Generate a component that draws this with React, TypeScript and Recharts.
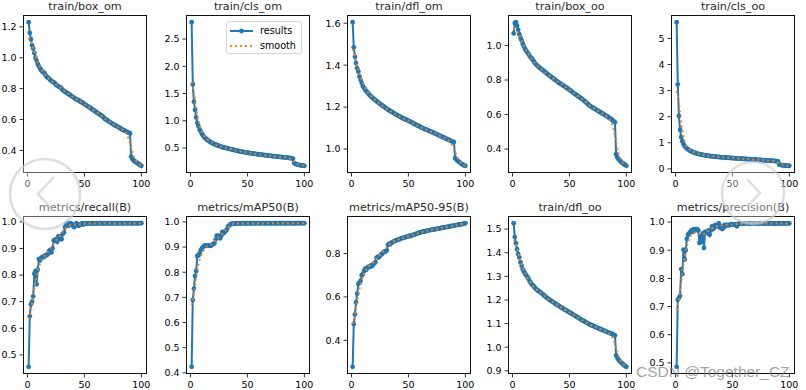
import React, {FC} from 'react';
import {LineChart, Line, XAxis, YAxis, Legend} from 'recharts';

const epochs = [
     1, 2, 3, 4, 5, 6, 7, 8, 9, 10, 11, 12, 13, 14, 15, 16, 17, 18, 19, 20,
     21, 22, 23, 24, 25, 26, 27, 28, 29, 30, 31, 32, 33, 34, 35, 36, 37, 38, 39, 40,
     41, 42, 43, 44, 45, 46, 47, 48, 49, 50, 51, 52, 53, 54, 55, 56, 57, 58, 59, 60,
     61, 62, 63, 64, 65, 66, 67, 68, 69, 70, 71, 72, 73, 74, 75, 76, 77, 78, 79, 80,
     81, 82, 83, 84, 85, 86, 87, 88, 89, 90, 91, 92, 93, 94, 95, 96, 97, 98, 99, 100,
];

// train/box_om
const boxOm = [
     1.23, 1.16, 1.12, 1.08, 1.06, 1.03, 1.0, 0.98, 0.96, 0.945,
     0.93, 0.92, 0.91, 0.905, 0.9, 0.885, 0.875, 0.87, 0.865, 0.855,
     0.85, 0.845, 0.84, 0.835, 0.825, 0.82, 0.815, 0.81, 0.808, 0.8,
     0.79, 0.785, 0.78, 0.775, 0.77, 0.765, 0.76, 0.755, 0.75, 0.745,
     0.74, 0.735, 0.73, 0.728, 0.723, 0.718, 0.714, 0.71, 0.705, 0.7,
     0.695, 0.69, 0.685, 0.68, 0.676, 0.67, 0.665, 0.66, 0.655, 0.65,
     0.645, 0.64, 0.635, 0.63, 0.625, 0.62, 0.612, 0.603, 0.6, 0.595,
     0.59, 0.585, 0.58, 0.575, 0.57, 0.566, 0.561, 0.558, 0.554, 0.55,
     0.545, 0.54, 0.536, 0.532, 0.529, 0.525, 0.52, 0.517, 0.515, 0.51,
     0.36, 0.345, 0.336, 0.33, 0.325, 0.32, 0.315, 0.31, 0.305, 0.3,
];
const boxOmSmooth = [
     1.13, 1.12, 1.1, 1.08, 1.06, 1.035, 1.01, 0.99, 0.97, 0.955,
     0.94, 0.928, 0.916, 0.905, 0.895, 0.886, 0.878, 0.87, 0.863, 0.857,
     0.851, 0.845, 0.839, 0.833, 0.827, 0.821, 0.816, 0.81, 0.805, 0.799,
     0.793, 0.787, 0.781, 0.776, 0.771, 0.766, 0.761, 0.756, 0.751, 0.746,
     0.741, 0.736, 0.732, 0.727, 0.723, 0.718, 0.714, 0.709, 0.704, 0.7,
     0.695, 0.69, 0.685, 0.68, 0.675, 0.67, 0.665, 0.66, 0.655, 0.65,
     0.645, 0.64, 0.635, 0.63, 0.624, 0.618, 0.612, 0.606, 0.6, 0.595,
     0.59, 0.585, 0.58, 0.575, 0.57, 0.566, 0.562, 0.558, 0.554, 0.549,
     0.545, 0.541, 0.537, 0.531, 0.526, 0.518, 0.506, 0.49, 0.469, 0.445,
     0.423, 0.396, 0.368, 0.349, 0.336, 0.326, 0.318, 0.311, 0.306, 0.302,
];

// train/cls_om
const clsOm = [
     2.81, 1.67, 1.35, 1.2, 1.06, 0.96, 0.9, 0.84, 0.8, 0.76,
     0.73, 0.7, 0.68, 0.66, 0.645, 0.63, 0.615, 0.6, 0.59, 0.58,
     0.57, 0.56, 0.555, 0.545, 0.54, 0.53, 0.525, 0.515, 0.51, 0.505,
     0.5, 0.495, 0.49, 0.485, 0.48, 0.475, 0.47, 0.465, 0.46, 0.455,
     0.448, 0.444, 0.44, 0.436, 0.432, 0.428, 0.424, 0.42, 0.416, 0.412,
     0.409, 0.406, 0.403, 0.4, 0.397, 0.394, 0.391, 0.388, 0.385, 0.382,
     0.38, 0.377, 0.374, 0.372, 0.369, 0.366, 0.364, 0.361, 0.358, 0.356,
     0.354, 0.351, 0.349, 0.347, 0.344, 0.342, 0.34, 0.337, 0.335, 0.333,
     0.33, 0.328, 0.326, 0.324, 0.321, 0.319, 0.316, 0.313, 0.31, 0.305,
     0.225, 0.21, 0.2, 0.195, 0.19, 0.185, 0.18, 0.178, 0.175, 0.172,
];
const clsOmSmooth = [
     1.71, 1.65, 1.53, 1.39, 1.24, 1.11, 1.0, 0.91, 0.84, 0.79,
     0.75, 0.72, 0.695, 0.675, 0.655, 0.638, 0.622, 0.608, 0.596, 0.585,
     0.575, 0.566, 0.557, 0.549, 0.541, 0.534, 0.527, 0.52, 0.514, 0.508,
     0.502, 0.497, 0.491, 0.486, 0.481, 0.476, 0.471, 0.465, 0.46, 0.455,
     0.45, 0.445, 0.441, 0.437, 0.433, 0.429, 0.425, 0.421, 0.417, 0.413,
     0.41, 0.406, 0.403, 0.4, 0.397, 0.394, 0.391, 0.388, 0.385, 0.383,
     0.38, 0.377, 0.375, 0.372, 0.369, 0.367, 0.364, 0.362, 0.359, 0.357,
     0.354, 0.352, 0.349, 0.347, 0.345, 0.342, 0.34, 0.338, 0.335, 0.333,
     0.331, 0.328, 0.326, 0.323, 0.318, 0.314, 0.306, 0.297, 0.285, 0.27,
     0.257, 0.235, 0.216, 0.205, 0.195, 0.188, 0.182, 0.178, 0.175, 0.173,
];

// train/dfl_om
const dflOm = [
     1.605, 1.485, 1.44, 1.41, 1.385, 1.37, 1.345, 1.33, 1.315, 1.3,
     1.292, 1.284, 1.276, 1.27, 1.264, 1.257, 1.252, 1.246, 1.242, 1.237,
     1.233, 1.228, 1.224, 1.22, 1.215, 1.212, 1.208, 1.204, 1.2, 1.196,
     1.192, 1.188, 1.185, 1.182, 1.178, 1.175, 1.172, 1.168, 1.165, 1.162,
     1.159, 1.156, 1.153, 1.15, 1.147, 1.145, 1.142, 1.14, 1.138, 1.135,
     1.132, 1.13, 1.127, 1.124, 1.121, 1.118, 1.115, 1.112, 1.11, 1.107,
     1.104, 1.101, 1.099, 1.096, 1.094, 1.092, 1.09, 1.087, 1.085, 1.083,
     1.08, 1.078, 1.075, 1.073, 1.07, 1.068, 1.065, 1.062, 1.06, 1.057,
     1.055, 1.052, 1.05, 1.047, 1.045, 1.042, 1.04, 1.037, 1.035, 1.033,
     0.957, 0.95, 0.945, 0.94, 0.936, 0.932, 0.928, 0.925, 0.922, 0.92,
];
const dflOmSmooth = [
     1.476, 1.462, 1.444, 1.422, 1.4, 1.38, 1.362, 1.346, 1.331, 1.318,
     1.306, 1.295, 1.285, 1.276, 1.268, 1.26, 1.254, 1.248, 1.243, 1.238,
     1.233, 1.228, 1.224, 1.22, 1.216, 1.212, 1.208, 1.204, 1.2, 1.196,
     1.192, 1.188, 1.185, 1.182, 1.178, 1.175, 1.172, 1.168, 1.165, 1.162,
     1.159, 1.156, 1.153, 1.15, 1.147, 1.145, 1.142, 1.14, 1.137, 1.135,
     1.132, 1.13, 1.127, 1.124, 1.121, 1.118, 1.115, 1.112, 1.11, 1.107,
     1.104, 1.101, 1.099, 1.096, 1.094, 1.092, 1.09, 1.087, 1.085, 1.083,
     1.08, 1.078, 1.075, 1.073, 1.07, 1.068, 1.065, 1.062, 1.06, 1.057,
     1.055, 1.052, 1.049, 1.046, 1.042, 1.037, 1.031, 1.022, 1.012, 1.0,
     0.99, 0.973, 0.96, 0.949, 0.941, 0.935, 0.929, 0.925, 0.922, 0.921,
];

// train/box_oo
const boxOo = [
     1.07, 1.13, 1.135, 1.115, 1.09, 1.065, 1.045, 1.03, 1.01, 0.995,
     0.98, 0.97, 0.96, 0.95, 0.94, 0.93, 0.925, 0.915, 0.905, 0.895,
     0.888, 0.882, 0.876, 0.87, 0.866, 0.86, 0.855, 0.85, 0.845, 0.838,
     0.833, 0.828, 0.823, 0.818, 0.813, 0.808, 0.803, 0.798, 0.793, 0.788,
     0.783, 0.779, 0.775, 0.77, 0.766, 0.762, 0.757, 0.753, 0.748, 0.743,
     0.738, 0.733, 0.728, 0.723, 0.718, 0.714, 0.709, 0.704, 0.699, 0.695,
     0.69, 0.685, 0.68, 0.674, 0.668, 0.662, 0.656, 0.65, 0.646, 0.642,
     0.638, 0.634, 0.63, 0.626, 0.622, 0.618, 0.614, 0.61, 0.606, 0.602,
     0.598, 0.594, 0.59, 0.585, 0.58, 0.576, 0.572, 0.566, 0.56, 0.555,
     0.37, 0.352, 0.342, 0.335, 0.328, 0.322, 0.317, 0.312, 0.308, 0.303,
];
const boxOoSmooth = [
     1.103, 1.095, 1.09, 1.083, 1.071, 1.057, 1.042, 1.027, 1.012, 0.998,
     0.985, 0.972, 0.961, 0.95, 0.94, 0.931, 0.922, 0.913, 0.905, 0.897,
     0.889, 0.882, 0.876, 0.87, 0.865, 0.86, 0.855, 0.849, 0.844, 0.839,
     0.833, 0.828, 0.823, 0.818, 0.813, 0.808, 0.803, 0.798, 0.793, 0.788,
     0.783, 0.779, 0.775, 0.77, 0.766, 0.762, 0.757, 0.753, 0.748, 0.743,
     0.738, 0.733, 0.728, 0.723, 0.718, 0.714, 0.709, 0.704, 0.699, 0.695,
     0.69, 0.685, 0.68, 0.674, 0.668, 0.662, 0.657, 0.651, 0.646, 0.642,
     0.638, 0.634, 0.63, 0.626, 0.622, 0.618, 0.614, 0.61, 0.606, 0.602,
     0.598, 0.594, 0.589, 0.582, 0.574, 0.564, 0.55, 0.53, 0.504, 0.477,
     0.448, 0.408, 0.378, 0.357, 0.34, 0.328, 0.32, 0.313, 0.309, 0.305,
];

// train/cls_oo
const clsOo = [
     5.62, 3.24, 2.03, 1.5, 1.22, 1.06, 0.95, 0.88, 0.82, 0.78,
     0.75, 0.72, 0.69, 0.67, 0.65, 0.63, 0.615, 0.6, 0.585, 0.575,
     0.565, 0.555, 0.545, 0.535, 0.528, 0.52, 0.513, 0.506, 0.5, 0.494,
     0.488, 0.483, 0.478, 0.473, 0.468, 0.463, 0.459, 0.455, 0.451, 0.447,
     0.443, 0.44, 0.436, 0.433, 0.43, 0.427, 0.424, 0.421, 0.418, 0.415,
     0.412, 0.409, 0.406, 0.403, 0.4, 0.397, 0.394, 0.391, 0.388, 0.385,
     0.382, 0.379, 0.376, 0.373, 0.37, 0.367, 0.364, 0.361, 0.358, 0.355,
     0.352, 0.349, 0.346, 0.343, 0.34, 0.337, 0.334, 0.331, 0.328, 0.325,
     0.322, 0.319, 0.316, 0.313, 0.31, 0.307, 0.304, 0.3, 0.297, 0.29,
     0.17, 0.155, 0.145, 0.14, 0.135, 0.13, 0.127, 0.124, 0.121, 0.118,
];
const clsOoSmooth = [
     2.99, 2.83, 2.53, 2.17, 1.81, 1.49, 1.24, 1.06, 0.93, 0.855,
     0.8, 0.76, 0.725, 0.697, 0.672, 0.65, 0.632, 0.615, 0.6, 0.587,
     0.575, 0.563, 0.552, 0.542, 0.533, 0.525, 0.517, 0.51, 0.503, 0.496,
     0.49, 0.484, 0.479, 0.474, 0.469, 0.464, 0.46, 0.455, 0.451, 0.447,
     0.443, 0.44, 0.436, 0.433, 0.43, 0.427, 0.424, 0.421, 0.418, 0.415,
     0.412, 0.409, 0.406, 0.403, 0.4, 0.397, 0.394, 0.391, 0.388, 0.385,
     0.382, 0.379, 0.376, 0.373, 0.37, 0.367, 0.364, 0.361, 0.358, 0.355,
     0.352, 0.349, 0.346, 0.343, 0.34, 0.337, 0.334, 0.331, 0.328, 0.325,
     0.322, 0.319, 0.316, 0.311, 0.306, 0.299, 0.289, 0.276, 0.26, 0.238,
     0.222, 0.192, 0.169, 0.155, 0.143, 0.134, 0.128, 0.124, 0.121, 0.119,
];

// metrics/recall(B)
const recall = [
     0.455, 0.645, 0.69, 0.7, 0.72, 0.805, 0.815, 0.765, 0.82, 0.86,
     0.855, 0.865, 0.865, 0.87, 0.87, 0.875, 0.875, 0.88, 0.89, 0.895,
     0.885, 0.9, 0.93, 0.93, 0.935, 0.925, 0.945, 0.935, 0.945, 0.935,
     0.955, 0.96, 0.98, 0.99, 0.995, 0.985, 0.99, 0.995, 0.99, 0.985,
     0.98, 0.99, 0.995, 0.99, 0.985, 0.99, 0.99, 0.995, 0.99, 0.993,
     0.994, 0.993, 0.995, 0.994, 0.993, 0.995, 0.994, 0.995, 0.993, 0.994,
     0.995, 0.994, 0.995, 0.995, 0.994, 0.995, 0.993, 0.995, 0.994, 0.995,
     0.995, 0.994, 0.995, 0.995, 0.994, 0.995, 0.995, 0.994, 0.995, 0.995,
     0.994, 0.995, 0.995, 0.994, 0.995, 0.995, 0.995, 0.994, 0.995, 0.995,
     0.995, 0.994, 0.995, 0.995, 0.995, 0.994, 0.995, 0.995, 0.995, 0.995,
];
const recallSmooth = [
     0.634, 0.645, 0.666, 0.694, 0.724, 0.75, 0.775, 0.795, 0.815, 0.83,
     0.843, 0.852, 0.86, 0.866, 0.872, 0.877, 0.882, 0.887, 0.892, 0.898,
     0.905, 0.912, 0.918, 0.924, 0.93, 0.935, 0.94, 0.945, 0.95, 0.956,
     0.962, 0.968, 0.973, 0.978, 0.982, 0.985, 0.987, 0.988, 0.989, 0.99,
     0.99, 0.99, 0.99, 0.99, 0.99, 0.991, 0.991, 0.992, 0.992, 0.993,
     0.993, 0.993, 0.994, 0.994, 0.994, 0.994, 0.994, 0.994, 0.994, 0.994,
     0.994, 0.994, 0.994, 0.994, 0.994, 0.994, 0.994, 0.994, 0.994, 0.994,
     0.994, 0.994, 0.994, 0.994, 0.994, 0.994, 0.994, 0.994, 0.994, 0.994,
     0.994, 0.994, 0.994, 0.994, 0.994, 0.994, 0.994, 0.994, 0.994, 0.994,
     0.994, 0.994, 0.995, 0.995, 0.995, 0.995, 0.995, 0.995, 0.995, 0.995,
];

// metrics/mAP50(B)
const mAP50 = [
     0.424, 0.69, 0.735, 0.785, 0.805, 0.865, 0.867, 0.875, 0.888, 0.895,
     0.9, 0.905, 0.907, 0.905, 0.906, 0.905, 0.908, 0.905, 0.91, 0.912,
     0.915, 0.93, 0.945, 0.94, 0.945, 0.935, 0.945, 0.96, 0.955, 0.96,
     0.965, 0.97, 0.982, 0.985, 0.99, 0.993, 0.992, 0.993, 0.993, 0.994,
     0.994, 0.995, 0.994, 0.994, 0.995, 0.994, 0.995, 0.995, 0.994, 0.995,
     0.994, 0.995, 0.995, 0.994, 0.995, 0.995, 0.994, 0.995, 0.995, 0.995,
     0.994, 0.995, 0.995, 0.995, 0.994, 0.995, 0.995, 0.995, 0.995, 0.994,
     0.995, 0.995, 0.995, 0.995, 0.995, 0.994, 0.995, 0.995, 0.995, 0.995,
     0.995, 0.995, 0.994, 0.995, 0.995, 0.995, 0.995, 0.995, 0.995, 0.995,
     0.994, 0.995, 0.995, 0.995, 0.995, 0.995, 0.995, 0.995, 0.995, 0.995,
];
const mAP50Smooth = [
     0.67, 0.686, 0.712, 0.745, 0.781, 0.808, 0.83, 0.848, 0.862, 0.873,
     0.882, 0.889, 0.895, 0.9, 0.903, 0.906, 0.909, 0.912, 0.915, 0.919,
     0.923, 0.928, 0.932, 0.936, 0.94, 0.944, 0.948, 0.953, 0.958, 0.963,
     0.968, 0.973, 0.978, 0.982, 0.986, 0.989, 0.991, 0.993, 0.993, 0.994,
     0.994, 0.994, 0.994, 0.994, 0.994, 0.994, 0.994, 0.994, 0.994, 0.994,
     0.994, 0.994, 0.994, 0.994, 0.994, 0.994, 0.994, 0.994, 0.994, 0.994,
     0.994, 0.994, 0.994, 0.994, 0.994, 0.994, 0.994, 0.995, 0.995, 0.995,
     0.995, 0.995, 0.995, 0.995, 0.995, 0.995, 0.995, 0.995, 0.995, 0.995,
     0.995, 0.995, 0.995, 0.995, 0.995, 0.995, 0.995, 0.995, 0.995, 0.995,
     0.995, 0.995, 0.995, 0.995, 0.995, 0.995, 0.995, 0.995, 0.995, 0.995,
];

// metrics/mAP50-95(B)
const mAP5095 = [
     0.278, 0.475, 0.52, 0.575, 0.615, 0.66, 0.665, 0.675, 0.7, 0.705,
     0.72, 0.73, 0.725, 0.735, 0.74, 0.738, 0.745, 0.742, 0.75, 0.755,
     0.76, 0.78, 0.785, 0.782, 0.79, 0.795, 0.8, 0.805, 0.81, 0.81,
     0.815, 0.84, 0.845, 0.843, 0.85, 0.852, 0.855, 0.858, 0.86, 0.862,
     0.865, 0.866, 0.868, 0.87, 0.872, 0.873, 0.875, 0.877, 0.878, 0.88,
     0.882, 0.88, 0.884, 0.886, 0.887, 0.889, 0.891, 0.893, 0.895, 0.897,
     0.898, 0.9, 0.902, 0.901, 0.903, 0.905, 0.906, 0.907, 0.908, 0.909,
     0.91, 0.911, 0.912, 0.913, 0.914, 0.915, 0.916, 0.917, 0.918, 0.919,
     0.92, 0.921, 0.922, 0.923, 0.924, 0.925, 0.926, 0.927, 0.928, 0.929,
     0.93, 0.931, 0.932, 0.933, 0.934, 0.935, 0.936, 0.937, 0.938, 0.94,
];
const mAP5095Smooth = [
     0.477, 0.49, 0.516, 0.547, 0.58, 0.61, 0.636, 0.658, 0.677, 0.693,
     0.707, 0.718, 0.727, 0.734, 0.74, 0.745, 0.75, 0.755, 0.76, 0.765,
     0.77, 0.776, 0.782, 0.788, 0.794, 0.8, 0.806, 0.812, 0.818, 0.824,
     0.83, 0.835, 0.84, 0.845, 0.849, 0.853, 0.856, 0.859, 0.861, 0.863,
     0.865, 0.867, 0.869, 0.87, 0.872, 0.873, 0.875, 0.877, 0.878, 0.88,
     0.881, 0.883, 0.884, 0.886, 0.887, 0.889, 0.891, 0.893, 0.895, 0.896,
     0.898, 0.899, 0.901, 0.902, 0.903, 0.905, 0.906, 0.907, 0.908, 0.909,
     0.91, 0.911, 0.912, 0.913, 0.914, 0.915, 0.916, 0.917, 0.918, 0.919,
     0.92, 0.921, 0.922, 0.923, 0.924, 0.925, 0.926, 0.927, 0.928, 0.929,
     0.93, 0.931, 0.932, 0.933, 0.934, 0.935, 0.936, 0.937, 0.938, 0.938,
];

// train/dfl_oo
const dflOo = [
     1.525, 1.466, 1.44, 1.415, 1.395, 1.38, 1.36, 1.345, 1.33, 1.32,
     1.312, 1.305, 1.298, 1.29, 1.28, 1.272, 1.265, 1.262, 1.256, 1.25,
     1.245, 1.24, 1.238, 1.234, 1.23, 1.226, 1.222, 1.218, 1.214, 1.21,
     1.206, 1.203, 1.199, 1.196, 1.193, 1.19, 1.186, 1.183, 1.18, 1.177,
     1.174, 1.171, 1.168, 1.165, 1.162, 1.159, 1.156, 1.153, 1.151, 1.148,
     1.145, 1.142, 1.139, 1.136, 1.133, 1.13, 1.127, 1.124, 1.121, 1.118,
     1.115, 1.112, 1.11, 1.107, 1.104, 1.101, 1.099, 1.096, 1.094, 1.092,
     1.09, 1.088, 1.085, 1.083, 1.081, 1.079, 1.077, 1.075, 1.073, 1.071,
     1.069, 1.067, 1.065, 1.063, 1.061, 1.059, 1.057, 1.055, 1.052, 1.05,
     0.965, 0.955, 0.948, 0.942, 0.937, 0.932, 0.928, 0.924, 0.92, 0.917,
];
const dflOoSmooth = [
     1.455, 1.448, 1.435, 1.418, 1.4, 1.383, 1.367, 1.352, 1.338, 1.326,
     1.315, 1.305, 1.296, 1.288, 1.28, 1.273, 1.266, 1.26, 1.255, 1.25,
     1.245, 1.241, 1.237, 1.233, 1.229, 1.225, 1.222, 1.218, 1.214, 1.21,
     1.206, 1.203, 1.199, 1.196, 1.193, 1.19, 1.186, 1.183, 1.18, 1.177,
     1.174, 1.171, 1.168, 1.165, 1.162, 1.159, 1.156, 1.153, 1.151, 1.148,
     1.145, 1.142, 1.139, 1.136, 1.133, 1.13, 1.127, 1.124, 1.121, 1.118,
     1.115, 1.112, 1.11, 1.107, 1.104, 1.101, 1.099, 1.096, 1.094, 1.092,
     1.09, 1.088, 1.085, 1.083, 1.081, 1.079, 1.077, 1.075, 1.073, 1.071,
     1.069, 1.067, 1.065, 1.062, 1.058, 1.053, 1.047, 1.038, 1.026, 1.014,
     1.001, 0.981, 0.965, 0.952, 0.943, 0.935, 0.929, 0.925, 0.921, 0.918,
];

// metrics/precision(B)
const precision = [
     0.486, 0.724, 0.73, 0.738, 0.833, 0.815, 0.902, 0.867, 0.9, 0.94,
     0.955, 0.96, 0.965, 0.97, 0.965, 0.975, 0.97, 0.975, 0.975, 0.97,
     0.926, 0.95, 0.93, 0.96, 0.908, 0.965, 0.965, 0.96, 0.97, 0.955,
     0.97, 0.985, 0.975, 0.98, 0.99, 0.985, 0.99, 0.995, 0.98, 0.985,
     0.975, 0.98, 0.99, 0.985, 0.99, 0.99, 0.988, 0.99, 0.993, 0.99,
     0.992, 0.99, 0.993, 0.985, 0.993, 0.995, 0.996, 0.995, 0.994, 0.995,
     0.996, 0.995, 0.995, 0.996, 0.994, 0.995, 0.996, 0.995, 0.995, 0.996,
     0.995, 0.994, 0.995, 0.996, 0.995, 0.995, 0.996, 0.995, 0.994, 0.995,
     0.996, 0.995, 0.995, 0.996, 0.995, 0.995, 0.994, 0.996, 0.995, 0.995,
     0.996, 0.995, 0.995, 0.995, 0.996, 0.995, 0.995, 0.995, 0.996, 0.995,
];
const precisionSmooth = [
     0.688, 0.7, 0.724, 0.755, 0.786, 0.82, 0.85, 0.875, 0.898, 0.915,
     0.928, 0.94, 0.948, 0.953, 0.958, 0.962, 0.963, 0.963, 0.962, 0.96,
     0.958, 0.957, 0.956, 0.956, 0.957, 0.959, 0.962, 0.965, 0.969, 0.972,
     0.975, 0.978, 0.98, 0.982, 0.984, 0.985, 0.986, 0.986, 0.986, 0.987,
     0.988, 0.989, 0.99, 0.99, 0.99, 0.991, 0.991, 0.991, 0.991, 0.991,
     0.992, 0.992, 0.993, 0.993, 0.994, 0.994, 0.994, 0.994, 0.994, 0.995,
     0.995, 0.995, 0.995, 0.995, 0.995, 0.995, 0.995, 0.995, 0.995, 0.995,
     0.995, 0.995, 0.995, 0.995, 0.995, 0.995, 0.995, 0.995, 0.995, 0.995,
     0.995, 0.995, 0.995, 0.995, 0.995, 0.995, 0.995, 0.995, 0.995, 0.995,
     0.995, 0.995, 0.995, 0.995, 0.995, 0.995, 0.995, 0.995, 0.995, 0.995,
];

// y tick labels per panel
const boxOmTicks = [0.4, 0.6, 0.8, 1.0, 1.2];
const clsOmTicks = [0.5, 1.0, 1.5, 2.0, 2.5];
const dflOmTicks = [1.0, 1.2, 1.4, 1.6];
const boxOoTicks = [0.4, 0.6, 0.8, 1.0];
const clsOoTicks = [0, 1, 2, 3, 4, 5];
const recallTicks = [0.5, 0.6, 0.7, 0.8, 0.9, 1.0];
const mAP50Ticks = [0.4, 0.5, 0.6, 0.7, 0.8, 0.9, 1.0];
const mAP5095Ticks = [0.4, 0.6, 0.8];
const dflOoTicks = [0.9, 1.0, 1.1, 1.2, 1.3, 1.4, 1.5];
const precisionTicks = [0.5, 0.6, 0.7, 0.8, 0.9, 1.0];
const xTicks = [0, 50, 100];

const BLUE = '#1f77b4';
const ORANGE = '#ff7f0e';
const FONT = '"DejaVu Sans", sans-serif';

const PLOT_W = 124;
const PLOT_H = 158;
const COL_X = [23, 186, 347, 508, 671];
const ROW_Y = [15, 216];
const Y_AXIS_W = 40;
const TOP = 20;
const RIGHT = 6;
const X_AXIS_H = 24;
const X_DOMAIN: [number, number] = [-3.95, 104.95];

interface Panel {
     title: string;
     results: number[];
     smooth: number[];
     ticks: number[];
     digits: number;
     legend?: boolean;
}

const panels: Panel[] = [
     {title: 'train/box_om', results: boxOm, smooth: boxOmSmooth, ticks: boxOmTicks, digits: 1},
     {title: 'train/cls_om', results: clsOm, smooth: clsOmSmooth, ticks: clsOmTicks, digits: 1, legend: true},
     {title: 'train/dfl_om', results: dflOm, smooth: dflOmSmooth, ticks: dflOmTicks, digits: 1},
     {title: 'train/box_oo', results: boxOo, smooth: boxOoSmooth, ticks: boxOoTicks, digits: 1},
     {title: 'train/cls_oo', results: clsOo, smooth: clsOoSmooth, ticks: clsOoTicks, digits: 0},
     {title: 'metrics/recall(B)', results: recall, smooth: recallSmooth, ticks: recallTicks, digits: 1},
     {title: 'metrics/mAP50(B)', results: mAP50, smooth: mAP50Smooth, ticks: mAP50Ticks, digits: 1},
     {title: 'metrics/mAP50-95(B)', results: mAP5095, smooth: mAP5095Smooth, ticks: mAP5095Ticks, digits: 1},
     {title: 'train/dfl_oo', results: dflOo, smooth: dflOoSmooth, ticks: dflOoTicks, digits: 1},
     {title: 'metrics/precision(B)', results: precision, smooth: precisionSmooth, ticks: precisionTicks, digits: 1},
];

const tickStyle = {fontSize: 9.5, fill: '#000', fontFamily: FONT};

const LegendBox: FC = () => (
     <div
          style={{
               width: 76,
               height: 33,
               boxSizing: 'border-box',
               border: '1px solid #d5d5d5',
               borderRadius: 3,
               background: 'rgba(255,255,255,0.8)',
               paddingTop: 1,
               fontFamily: FONT,
               fontSize: 9.6,
               color: '#000',
          }}
     >
          <div style={{display: 'flex', alignItems: 'center', height: 15}}>
               <svg width={30} height={10} style={{marginLeft: 3}}>
                    <line x1={0} y1={5} x2={23} y2={5} stroke={BLUE} strokeWidth={2} />
                    <circle cx={11.5} cy={5} r={2.4} fill={BLUE} />
               </svg>
               <span>results</span>
          </div>
          <div style={{display: 'flex', alignItems: 'center', height: 15}}>
               <svg width={30} height={10} style={{marginLeft: 3}}>
                    <line x1={0} y1={5} x2={23} y2={5} stroke={ORANGE} strokeWidth={1.9} strokeDasharray="1.9 3.1" />
               </svg>
               <span>smooth</span>
          </div>
     </div>
);

const Subplot: FC<{panel: Panel; col: number; row: number}> = ({panel, col, row}) => {
     const data = epochs.map((epoch, i) => ({epoch, results: panel.results[i], smooth: panel.smooth[i]}));
     const all = [...panel.results, ...panel.smooth];
     const lo = Math.min(...all);
     const hi = Math.max(...all);
     const pad = (hi - lo) * 0.05;
     const yDomain: [number, number] = [lo - pad, hi + pad];
     const width = Y_AXIS_W + PLOT_W + RIGHT;
     const height = TOP + PLOT_H + X_AXIS_H;
     const margin = {top: TOP, right: RIGHT, bottom: 0, left: 0};
     const layer = {position: 'absolute' as const, left: 0, top: 0};

     return (
          <div style={{position: 'absolute', left: COL_X[col] - Y_AXIS_W, top: ROW_Y[row] - TOP, width, height}}>
               <div
                    style={{
                         position: 'absolute',
                         left: Y_AXIS_W - 40,
                         width: PLOT_W + 80,
                         top: TOP - 15,
                         height: 14,
                         lineHeight: '14px',
                         textAlign: 'center',
                         whiteSpace: 'nowrap',
                         fontFamily: FONT,
                         fontSize: 11.2,
                         fontWeight: 400,
                         color: '#2a2a2a',
                    }}
               >
                    {panel.title}
               </div>
               {/* results: axes, blue line with point markers */}
               <div style={layer}>
                    <LineChart width={width} height={height} data={data} margin={margin}>
                         <XAxis
                              dataKey="epoch"
                              type="number"
                              domain={X_DOMAIN}
                              ticks={xTicks}
                              interval={0}
                              height={X_AXIS_H}
                              axisLine={false}
                              tickLine={{stroke: '#000', strokeWidth: 0.8}}
                              tickSize={3.5}
                              tickMargin={4}
                              tick={tickStyle}
                              allowDataOverflow
                         />
                         <YAxis
                              type="number"
                              domain={yDomain}
                              ticks={panel.ticks}
                              interval={0}
                              width={Y_AXIS_W}
                              axisLine={false}
                              tickLine={{stroke: '#000', strokeWidth: 0.8}}
                              tickSize={3.5}
                              tickMargin={3}
                              tick={tickStyle}
                              tickFormatter={(v: number) => v.toFixed(panel.digits)}
                              allowDataOverflow
                         />
                         <Line
                              name="results"
                              dataKey="results"
                              type="linear"
                              stroke={BLUE}
                              strokeWidth={2}
                              dot={{r: 2.4, fill: BLUE, stroke: 'none'}}
                              activeDot={false}
                              isAnimationActive={false}
                         />
                    </LineChart>
               </div>
               {/* smooth: drawn on top of the markers */}
               <div style={layer}>
                    <LineChart width={width} height={height} data={data} margin={margin}>
                         <XAxis
                              dataKey="epoch"
                              type="number"
                              domain={X_DOMAIN}
                              height={X_AXIS_H}
                              axisLine={false}
                              tickLine={false}
                              tick={false}
                              allowDataOverflow
                         />
                         <YAxis
                              type="number"
                              domain={yDomain}
                              width={Y_AXIS_W}
                              axisLine={false}
                              tickLine={false}
                              tick={false}
                              allowDataOverflow
                         />
                         <Line
                              name="smooth"
                              dataKey="smooth"
                              type="linear"
                              stroke={ORANGE}
                              strokeWidth={1.9}
                              strokeDasharray="1.9 3.1"
                              dot={false}
                              activeDot={false}
                              isAnimationActive={false}
                         />
                         {panel.legend && (
                              <Legend
                                   layout="vertical"
                                   align="center"
                                   verticalAlign="middle"
                                   wrapperStyle={{left: Y_AXIS_W + PLOT_W - 84, top: TOP + 6, width: 76}}
                                   content={() => <LegendBox />}
                              />
                         )}
                    </LineChart>
               </div>
               <div
                    style={{
                         position: 'absolute',
                         left: Y_AXIS_W,
                         top: TOP,
                         width: PLOT_W,
                         height: PLOT_H,
                         boxSizing: 'border-box',
                         border: '1px solid #111',
                         pointerEvents: 'none',
                    }}
               />
          </div>
     );
};

const Watermarks: FC = () => (
     <svg width={806} height={390} style={{position: 'absolute', left: 0, top: 0, pointerEvents: 'none'}}>
          <circle cx={45} cy={194} r={35} fill="rgba(255,255,255,0.35)" stroke="rgba(200,200,200,0.6)" strokeWidth={2.5} />
          <polyline points="54,177 38,194 54,211" fill="none" stroke="rgba(200,200,200,0.6)" strokeWidth={2.5} />
          <circle cx={753} cy={193} r={31} fill="rgba(255,255,255,0.35)" stroke="rgba(200,200,200,0.6)" strokeWidth={2.5} />
          <polyline points="747,179 760,193 747,207" fill="none" stroke="rgba(200,200,200,0.6)" strokeWidth={2.5} />
          <text x={636} y={377} fontFamily='"Liberation Sans", Arial, sans-serif' fontSize={15.5} fill="rgba(120,120,120,0.7)">
               CSDN @Together_CZ
          </text>
     </svg>
);

const App: FC = () => {
     return (
          <div style={{position: 'absolute', left: 0, top: 0, width: 806, height: 390, background: '#fff', overflow: 'hidden'}}>
               {panels.map((panel, i) => (
                    <Subplot key={panel.title} panel={panel} col={i % 5} row={Math.floor(i / 5)} />
               ))}
               <Watermarks />
          </div>
     );
};

export default App;
